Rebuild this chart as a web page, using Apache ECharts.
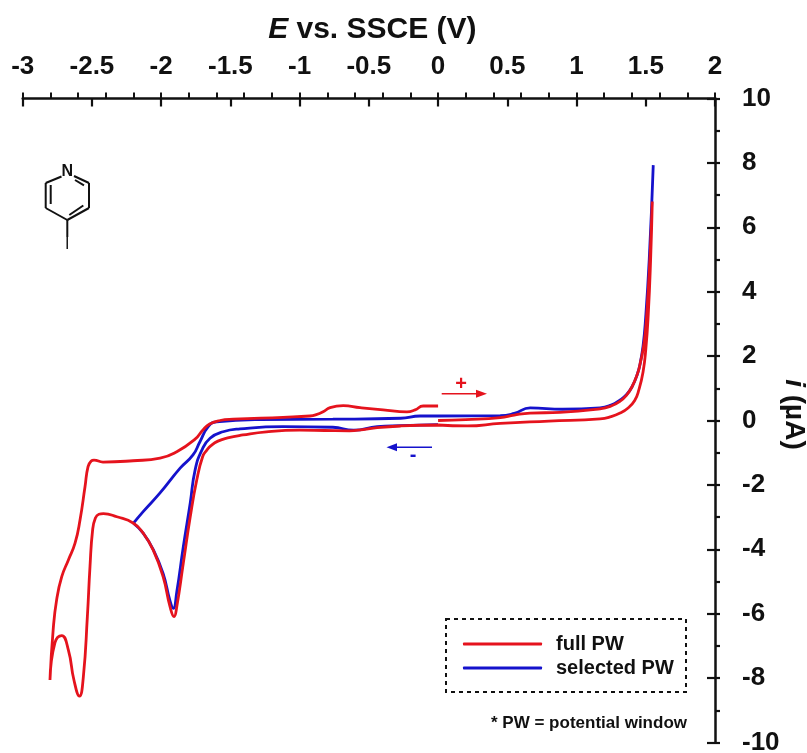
<!DOCTYPE html>
<html><head><meta charset="utf-8">
<script src="https://cdn.jsdelivr.net/npm/echarts@6/dist/echarts.min.js"></script>
<style>html,body{margin:0;padding:0;background:#fff}#c{width:807px;height:753px}</style>
</head><body><div id="c"></div>
<script>
const xTicks = {min:-3,max:2,major:0.5,minor:0.2};
const yTicks = {min:-10,max:10,major:2,minor:1};
const fullNegative = [[0,-0.14],[-0.27,-0.17],[-0.44,-0.22],[-0.54,-0.28],[-0.64,-0.32],[-0.82,-0.31],[-1.0,-0.3],[-1.24,-0.35],[-1.41,-0.45],[-1.52,-0.54],[-1.59,-0.64],[-1.64,-0.78],[-1.67,-0.92],[-1.70,-1.12],[-1.743,-1.85],[-1.79,-2.99],[-1.84,-4.43],[-1.887,-5.78],[-1.907,-6.09],[-1.936,-5.78],[-1.986,-4.85],[-2.058,-4.02],[-2.13,-3.5],[-2.2,-3.19],[-2.32,-2.99],[-2.417,-2.89],[-2.45,-2.91],[-2.475,-3.03],[-2.495,-3.4],[-2.514,-4.54],[-2.533,-6.09],[-2.562,-7.96],[-2.59,-8.56],[-2.63,-8.06],[-2.67,-7.13],[-2.718,-6.68],[-2.767,-6.9],[-2.803,-8.06]];
const fullReturn = [[-2.803,-8.06],[-2.78,-6.5],[-2.755,-5.57],[-2.718,-4.85],[-2.67,-4.33],[-2.622,-3.81],[-2.586,-3.09],[-2.55,-2.06],[-2.528,-1.43],[-2.505,-1.26],[-2.485,-1.23],[-2.42,-1.29],[-2.203,-1.25],[-2.008,-1.17],[-1.887,-0.97],[-1.755,-0.58],[-1.70,-0.3],[-1.65,-0.11],[-1.575,0],[-1.48,0.04],[-1.12,0.1],[-0.925,0.14],[-0.88,0.18],[-0.83,0.27],[-0.78,0.4],[-0.685,0.46],[-0.564,0.4],[-0.397,0.33],[-0.225,0.27],[-0.166,0.33],[-0.108,0.45],[0,0.45]];
const fullPositive = [[0,-0.14],[0.21,-0.17],[0.449,-0.09],[0.8,-0.02],[1.17,0.05],[1.25,0.12],[1.315,0.23],[1.37,0.38],[1.42,0.62],[1.45,0.95],[1.48,1.5],[1.50,2.2],[1.518,3.3],[1.535,5],[1.547,6.8],[1.54,6],[1.525,4.6],[1.51,3.5],[1.496,2.7],[1.48,2.2],[1.46,1.78],[1.44,1.45],[1.40,1.04],[1.36,0.78],[1.315,0.6],[1.25,0.45],[1.17,0.36],[0.88,0.25],[0.665,0.23],[0.55,0.17],[0.449,0.09],[0.2,0.03],[0,0]];
const selectedNegative = [[0,-0.13],[-0.27,-0.16],[-0.44,-0.19],[-0.61,-0.3],[-0.76,-0.21],[-1.12,-0.19],[-1.43,-0.26],[-1.553,-0.35],[-1.647,-0.55],[-1.706,-0.92],[-1.755,-1.54],[-1.79,-2.56],[-1.84,-3.92],[-1.887,-5.32],[-1.912,-5.83],[-1.936,-5.6],[-1.986,-4.75],[-2.058,-4.0],[-2.13,-3.5],[-2.2,-3.19]];
const selectedReturn = [[-2.2,-3.19],[-2.13,-2.83],[-2.008,-2.25],[-1.863,-1.48],[-1.77,-1.07],[-1.72,-0.66],[-1.66,-0.19],[-1.6,-0.04],[-1.285,0.03],[-0.76,0.04],[-0.27,0.07],[-0.13,0.14],[0,0.14],[0.449,0.15],[0.55,0.22],[0.665,0.39],[0.9,0.35],[1.17,0.39],[1.25,0.48],[1.315,0.64],[1.36,0.8],[1.40,1.04],[1.44,1.45],[1.46,1.78],[1.48,2.3],[1.496,3],[1.525,5],[1.554,7.93]];
const fullName = 'full PW', selectedName = 'selected PW';
const RED = '#e5131d', BLUE = '#1512cc', INK = '#111';
const font = 'Liberation Sans, Arial, sans-serif';
const bar = (a, b) => a.concat([[null, null]], b);
const fullData = bar(bar(fullNegative, fullReturn), fullPositive);
const selectedData = bar(selectedNegative, selectedReturn);
const ln = (x1,y1,x2,y2,color,w) => ({type:'line',shape:{x1,y1,x2,y2},style:{stroke:color||INK,lineWidth:w||2},silent:true});
const txt = (x,y,text,size,color,weight,align) => ({type:'text',x,y,silent:true,style:{text,font:(weight||'bold')+' '+size+'px '+font,fill:color||INK,align:align||'center',verticalAlign:'middle'}});
const head = (pts,color) => ({type:'polygon',shape:{points:pts},style:{fill:color},silent:true});
const chart = echarts.init(document.getElementById('c'),null,{renderer:'canvas'});
const axisLine = {onZero:false,lineStyle:{color:INK,width:2.5}};
chart.setOption({
  animation:false,backgroundColor:'#fff',
  grid:{left:22.7,right:807-715,top:98.5,bottom:753-742.5,containLabel:false,outerBoundsMode:'none'},
  xAxis:[
    {type:'value',position:'top',min:xTicks.min,max:xTicks.max,interval:xTicks.major,axisLine,splitLine:{show:false},
     axisTick:{inside:true,length:8,lineStyle:{color:INK,width:2.2}},
     axisLabel:{margin:19,fontFamily:font,fontWeight:'bold',fontSize:26,color:INK,hideOverlap:false,showMinLabel:true,showMaxLabel:true,
       formatter:v=>String(Math.round(v*10)/10)},
     name:'{i|E}{b| vs. SSCE (V)}',nameLocation:'middle',nameGap:54,nameTextStyle:{rich:{
       i:{fontFamily:font,fontWeight:'bold',fontStyle:'italic',fontSize:30,color:INK,padding:[0,0,0,7]},
       b:{fontFamily:font,fontWeight:'bold',fontSize:30,color:INK}}}},
    {type:'value',position:'top',min:xTicks.min,max:xTicks.max,interval:xTicks.minor,axisLine:{show:false,onZero:false},splitLine:{show:false},
     axisTick:{length:6,lineStyle:{color:INK,width:2}},axisLabel:{show:false}}
  ],
  yAxis:[
    {type:'value',position:'right',min:yTicks.min,max:yTicks.max,interval:yTicks.major,axisLine,splitLine:{show:false},
     axisTick:{inside:true,length:8,lineStyle:{color:INK,width:2.2}},
     axisLabel:{margin:27,fontFamily:font,fontWeight:'bold',fontSize:26,color:INK,align:'left',showMinLabel:true,showMaxLabel:true},
     name:'{i|i}{b| (µA)}',nameLocation:'middle',nameGap:65,nameRotate:-90,nameMoveOverlap:false,nameTextStyle:{rich:{
       i:{fontFamily:font,fontWeight:'bold',fontStyle:'italic',fontSize:28,color:INK},
       b:{fontFamily:font,fontWeight:'bold',fontSize:28,color:INK,padding:[0,12,0,0]}}}},
    {type:'value',position:'right',min:yTicks.min,max:yTicks.max,interval:yTicks.minor,axisLine:{show:false,onZero:false},splitLine:{show:false},
     axisTick:{length:5,lineStyle:{color:INK,width:2.2}},axisLabel:{show:false}}
  ],
  legend:{left:458,top:629,padding:5,orient:'vertical',itemWidth:79,itemHeight:3,itemGap:4,icon:'roundRect',
    textStyle:{fontFamily:font,fontWeight:'bold',fontSize:20,color:INK,padding:[0,0,0,9]},data:[fullName,selectedName]},
  series:[
    {name:selectedName,type:'line',data:selectedData,showSymbol:false,symbol:'none',smooth:0.5,connectNulls:false,z:2,clip:false,
     lineStyle:{color:BLUE,width:2.8},itemStyle:{color:BLUE}},
    {name:fullName,type:'line',data:fullData,showSymbol:false,symbol:'none',smooth:0.5,connectNulls:false,z:3,clip:false,
     lineStyle:{color:RED,width:2.8},itemStyle:{color:RED}}
  ],
  graphic:{elements:[
    {type:'rect',shape:{x:446,y:619,width:240,height:73},style:{fill:'none',stroke:INK,lineWidth:2,lineDash:[4,4]},silent:true},
    txt(687,723,'* PW = potential window',17,INK,'bold','right'),
    ln(441.7,393.7,478,393.7,RED,1.5), head([[476,389.7],[487,393.7],[476,397.7]],RED),
    txt(461,384.5,'+',20,RED),
    ln(432,447.3,394,447.3,BLUE,1.5), head([[397,443.3],[386.5,447.3],[397,451.3]],BLUE),
    txt(413,455,'-',20,BLUE),
    txt(67.3,172,'N',16,INK,'bold'),
    txt(67.3,244.5,'I',16,INK,'normal'),
    ln(61.5,176.5,45.7,183),ln(45.7,183,45.7,208),ln(45.7,208,67.3,220),ln(67.3,220,89,208),ln(89,208,89,183),ln(89,183,74,176),
    ln(50.7,185,50.7,204),ln(75,180,84,185.3),ln(69.3,215,83.3,205.5),ln(67.3,220,67.3,237)
  ]}
});
</script></body></html>
